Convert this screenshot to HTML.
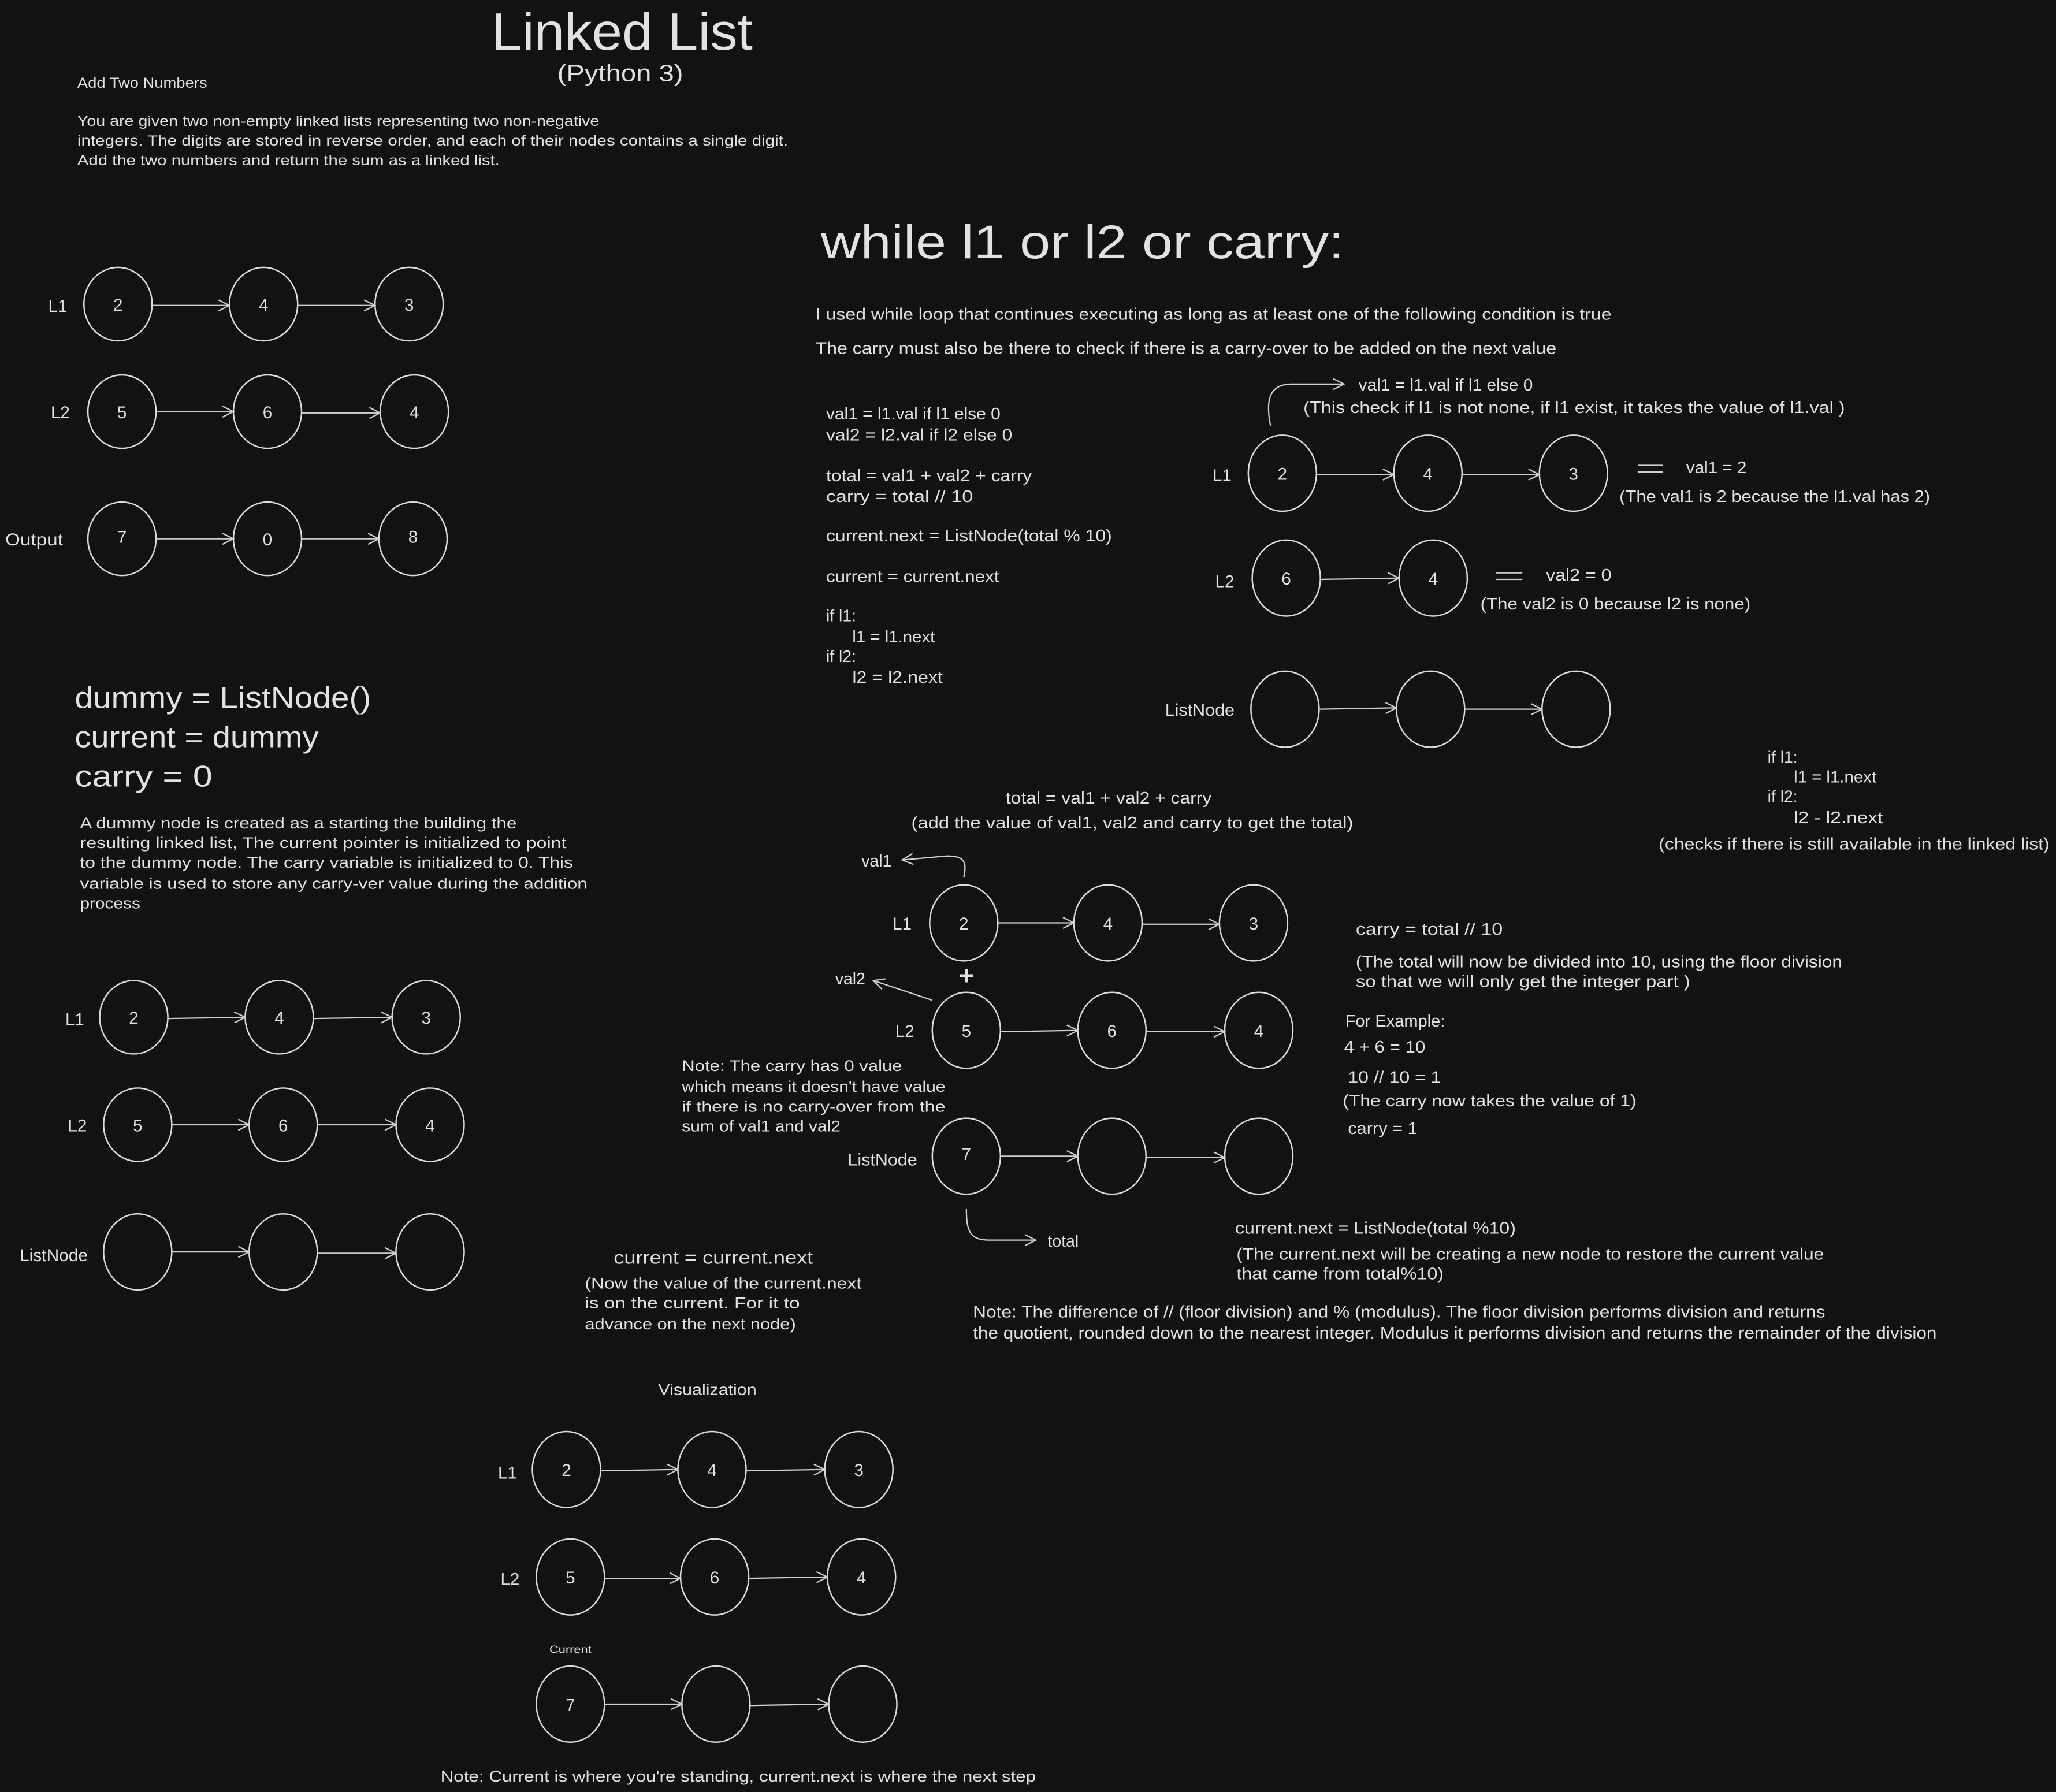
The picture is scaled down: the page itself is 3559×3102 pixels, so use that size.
<!DOCTYPE html>
<html><head><meta charset="utf-8"><style>
html,body{margin:0;padding:0;background:#121212;}
svg{display:block}
text{font-family:"Liberation Sans",sans-serif;fill:#e2e2e2;}
.c{fill:none;stroke:#dcdcdc;stroke-width:1.1}
.a{fill:none;stroke:#cfcfcf;stroke-width:1;marker-end:url(#ah)}
</style></head><body>
<svg width="3559" height="3102" viewBox="0 0 1568 1367" preserveAspectRatio="none" xmlns="http://www.w3.org/2000/svg">
<defs><marker id="ah" viewBox="0 0 12 12" refX="11" refY="6" markerWidth="10" markerHeight="10" markerUnits="userSpaceOnUse" orient="auto"><path d="M1 1 L11 6 L1 11" fill="none" stroke="#cfcfcf" stroke-width="1.2"/></marker></defs>
<rect width="1568" height="1367" fill="#121212"/>

<text x="375" y="38" font-size="40" textLength="199" lengthAdjust="spacingAndGlyphs">Linked List</text>
<text x="425" y="62" font-size="18" textLength="96" lengthAdjust="spacingAndGlyphs">(Python 3)</text>
<text x="59" y="67" font-size="11" textLength="99" lengthAdjust="spacingAndGlyphs">Add Two Numbers</text>
<text x="59" y="96" font-size="11" textLength="398" lengthAdjust="spacingAndGlyphs">You are given two non-empty linked lists representing two non-negative</text>
<text x="59" y="111" font-size="11" textLength="542" lengthAdjust="spacingAndGlyphs">integers. The digits are stored in reverse order, and each of their nodes contains a single digit.</text>
<text x="59" y="126" font-size="11" textLength="322" lengthAdjust="spacingAndGlyphs">Add the two numbers and return the sum as a linked list.</text>

<!-- Group A -->
<g font-size="13" text-anchor="middle">
<text x="44" y="238">L1</text>
<ellipse class="c" cx="90" cy="232" rx="26" ry="28"/><text x="90" y="237">2</text>
<ellipse class="c" cx="201" cy="232" rx="26" ry="28"/><text x="201" y="237">4</text>
<ellipse class="c" cx="312" cy="232" rx="26" ry="28"/><text x="312" y="237">3</text>
<path class="a" d="M116 233 L175 233"/><path class="a" d="M227 233 L286 233"/>
<text x="46" y="319">L2</text>
<ellipse class="c" cx="93" cy="314" rx="26" ry="28"/><text x="93" y="319">5</text>
<ellipse class="c" cx="204" cy="314" rx="26" ry="28"/><text x="204" y="319">6</text>
<ellipse class="c" cx="316" cy="314" rx="26" ry="28"/><text x="316" y="319">4</text>
<path class="a" d="M119 314 L178 314"/><path class="a" d="M230 315 L290 315"/>
<text x="26" y="416" textLength="44" lengthAdjust="spacingAndGlyphs">Output</text>
<ellipse class="c" cx="93" cy="411" rx="26" ry="28"/><text x="93" y="414">7</text>
<ellipse class="c" cx="204" cy="411" rx="26" ry="28"/><text x="204" y="416">0</text>
<ellipse class="c" cx="315" cy="411" rx="26" ry="28"/><text x="315" y="414">8</text>
<path class="a" d="M119 411 L178 411"/><path class="a" d="M230 411 L289 411"/>
</g>

<text x="626" y="197" font-size="36" textLength="399" lengthAdjust="spacingAndGlyphs">while l1 or l2 or carry:</text>
<text x="622" y="244" font-size="12.5" textLength="607" lengthAdjust="spacingAndGlyphs">I used while loop that continues executing as long as at least one of the following condition is true</text>
<text x="622" y="270" font-size="12.5" textLength="565" lengthAdjust="spacingAndGlyphs">The carry must also be there to check if there is a carry-over to be added on the next value</text>

<g font-size="12.5">
<text x="630" y="320" textLength="133" lengthAdjust="spacingAndGlyphs">val1 = l1.val if l1 else 0</text>
<text x="630" y="336" textLength="142" lengthAdjust="spacingAndGlyphs">val2 = l2.val if l2 else 0</text>
<text x="630" y="367" textLength="157" lengthAdjust="spacingAndGlyphs">total = val1 + val2 + carry</text>
<text x="630" y="383" textLength="112" lengthAdjust="spacingAndGlyphs">carry = total // 10</text>
<text x="630" y="413" textLength="218" lengthAdjust="spacingAndGlyphs">current.next = ListNode(total % 10)</text>
<text x="630" y="444" textLength="132" lengthAdjust="spacingAndGlyphs">current = current.next</text>
<text x="630" y="474">if l1:</text>
<text x="650" y="490" textLength="63" lengthAdjust="spacingAndGlyphs">l1 = l1.next</text>
<text x="630" y="505">if l2:</text>
<text x="650" y="521" textLength="69" lengthAdjust="spacingAndGlyphs">l2 = l2.next</text>
</g>

<!-- right group -->
<path class="a" d="M969 325 C965 305 968 293 985 293 L1025 293"/>
<g font-size="12.5">
<text x="1036" y="298" textLength="133" lengthAdjust="spacingAndGlyphs">val1 = l1.val if l1 else 0</text>
<text x="994" y="315" textLength="413" lengthAdjust="spacingAndGlyphs">(This check if l1 is not none, if l1 exist, it takes the value of l1.val )</text>
<text x="1286" y="361" textLength="46" lengthAdjust="spacingAndGlyphs">val1 = 2</text>
<text x="1235" y="383" textLength="237" lengthAdjust="spacingAndGlyphs">(The val1 is 2 because the l1.val has 2)</text>
<text x="1179" y="443" textLength="50" lengthAdjust="spacingAndGlyphs">val2 = 0</text>
<text x="1129" y="465" textLength="206" lengthAdjust="spacingAndGlyphs">(The val2 is 0 because l2 is none)</text>
</g>
<path d="M1249 355 H1268 M1249 360 H1268 M1141 437 H1161 M1141 442 H1161" stroke="#cfcfcf" stroke-width="1"/>
<g font-size="13" text-anchor="middle">
<text x="932" y="367">L1</text>
<ellipse class="c" cx="978" cy="361" rx="26" ry="29"/><text x="978" y="366">2</text>
<ellipse class="c" cx="1089" cy="361" rx="26" ry="29"/><text x="1089" y="366">4</text>
<ellipse class="c" cx="1200" cy="361" rx="26" ry="29"/><text x="1200" y="366">3</text>
<path class="a" d="M1004 362 L1063 362"/><path class="a" d="M1115 362 L1174 362"/>
<text x="934" y="448">L2</text>
<ellipse class="c" cx="981" cy="441" rx="26" ry="29"/><text x="981" y="446">6</text>
<ellipse class="c" cx="1093" cy="441" rx="26" ry="29"/><text x="1093" y="446">4</text>
<path class="a" d="M1007 442 L1067 441"/>
<text x="915" y="546" textLength="53" lengthAdjust="spacingAndGlyphs">ListNode</text>
<ellipse class="c" cx="980" cy="541" rx="26" ry="29"/>
<ellipse class="c" cx="1091" cy="541" rx="26" ry="29"/>
<ellipse class="c" cx="1202" cy="541" rx="26" ry="29"/>
<path class="a" d="M1006 541 L1065 540"/><path class="a" d="M1117 541 L1176 541"/>
</g>

<g font-size="12.5">
<text x="1348" y="582">if l1:</text>
<text x="1368" y="597" textLength="63" lengthAdjust="spacingAndGlyphs">l1 = l1.next</text>
<text x="1348" y="612">if l2:</text>
<text x="1368" y="628" textLength="68" lengthAdjust="spacingAndGlyphs">l2 - l2.next</text>
<text x="1265" y="648" textLength="298" lengthAdjust="spacingAndGlyphs">(checks if there is still available in the linked list)</text>
</g>

<!-- left dummy -->
<g font-size="23">
<text x="57" y="540" textLength="226" lengthAdjust="spacingAndGlyphs">dummy = ListNode()</text>
<text x="57" y="570" textLength="186" lengthAdjust="spacingAndGlyphs">current = dummy</text>
<text x="57" y="600" textLength="105" lengthAdjust="spacingAndGlyphs">carry = 0</text>
</g>
<g font-size="12">
<text x="61" y="632" textLength="333" lengthAdjust="spacingAndGlyphs">A dummy node is created as a starting the building the</text>
<text x="61" y="647" textLength="371" lengthAdjust="spacingAndGlyphs">resulting linked list, The current pointer is initialized to point</text>
<text x="61" y="662" textLength="376" lengthAdjust="spacingAndGlyphs">to the dummy node. The carry variable is initialized to 0. This</text>
<text x="61" y="678" textLength="387" lengthAdjust="spacingAndGlyphs">variable is used to store any carry-ver value during the addition</text>
<text x="61" y="693" textLength="46" lengthAdjust="spacingAndGlyphs">process</text>
</g>

<!-- Group B -->
<g font-size="13" text-anchor="middle">
<text x="57" y="782">L1</text>
<ellipse class="c" cx="102" cy="776" rx="26" ry="28"/><text x="102" y="781">2</text>
<ellipse class="c" cx="213" cy="776" rx="26" ry="28"/><text x="213" y="781">4</text>
<ellipse class="c" cx="325" cy="776" rx="26" ry="28"/><text x="325" y="781">3</text>
<path class="a" d="M128 777 L187 776"/><path class="a" d="M239 777 L299 776"/>
<text x="59" y="863">L2</text>
<ellipse class="c" cx="105" cy="858" rx="26" ry="28"/><text x="105" y="863">5</text>
<ellipse class="c" cx="216" cy="858" rx="26" ry="28"/><text x="216" y="863">6</text>
<ellipse class="c" cx="328" cy="858" rx="26" ry="28"/><text x="328" y="863">4</text>
<path class="a" d="M131 858 L190 858"/><path class="a" d="M242 858 L302 858"/>
<text x="41" y="962" textLength="52" lengthAdjust="spacingAndGlyphs">ListNode</text>
<ellipse class="c" cx="105" cy="955" rx="26" ry="29"/>
<ellipse class="c" cx="216" cy="955" rx="26" ry="29"/>
<ellipse class="c" cx="328" cy="955" rx="26" ry="29"/>
<path class="a" d="M131 955 L190 955"/><path class="a" d="M242 956 L302 956"/>
</g>

<!-- middle -->
<text x="767" y="613" font-size="12.5" textLength="157" lengthAdjust="spacingAndGlyphs">total = val1 + val2 + carry</text>
<text x="695" y="632" font-size="12.5" textLength="337" lengthAdjust="spacingAndGlyphs">(add the value of val1, val2 and carry to get the total)</text>
<text x="657" y="661" font-size="12.5">val1</text>
<path class="a" d="M735 669 C738 656 734 653 722 653 L688 656"/>
<text x="637" y="751" font-size="12.5">val2</text>
<path class="a" d="M711 763 L666 748"/>
<text x="737" y="751" font-size="20" font-weight="bold" text-anchor="middle">+</text>
<g font-size="13" text-anchor="middle">
<text x="688" y="709">L1</text>
<ellipse class="c" cx="735" cy="704" rx="26" ry="29"/><text x="735" y="709">2</text>
<ellipse class="c" cx="845" cy="704" rx="26" ry="29"/><text x="845" y="709">4</text>
<ellipse class="c" cx="956" cy="704" rx="26" ry="29"/><text x="956" y="709">3</text>
<path class="a" d="M761 704 L819 704"/><path class="a" d="M871 705 L930 705"/>
<text x="690" y="791">L2</text>
<ellipse class="c" cx="737" cy="786" rx="26" ry="29"/><text x="737" y="791">5</text>
<ellipse class="c" cx="848" cy="786" rx="26" ry="29"/><text x="848" y="791">6</text>
<ellipse class="c" cx="960" cy="786" rx="26" ry="29"/><text x="960" y="791">4</text>
<path class="a" d="M763 787 L822 786"/><path class="a" d="M874 787 L934 787"/>
<text x="673" y="889" textLength="53" lengthAdjust="spacingAndGlyphs">ListNode</text>
<ellipse class="c" cx="737" cy="882" rx="26" ry="29"/><text x="737" y="885">7</text>
<ellipse class="c" cx="848" cy="882" rx="26" ry="29"/>
<ellipse class="c" cx="960" cy="882" rx="26" ry="29"/>
<path class="a" d="M763 882 L822 882"/><path class="a" d="M874 883 L934 883"/>
</g>
<path class="a" d="M737 922 C737 940 740 946 755 946 L790 946"/>
<text x="799" y="951" font-size="12.5">total</text>
<g font-size="12">
<text x="520" y="817" textLength="168" lengthAdjust="spacingAndGlyphs">Note: The carry has 0 value</text>
<text x="520" y="833" textLength="201" lengthAdjust="spacingAndGlyphs">which means it doesn't have value</text>
<text x="520" y="848" textLength="201" lengthAdjust="spacingAndGlyphs">if there is no carry-over from the</text>
<text x="520" y="863" textLength="121" lengthAdjust="spacingAndGlyphs">sum of val1 and val2</text>
</g>

<g font-size="12.5">
<text x="1034" y="713" textLength="112" lengthAdjust="spacingAndGlyphs">carry = total // 10</text>
<text x="1034" y="738" textLength="371" lengthAdjust="spacingAndGlyphs">(The total will now be divided into 10, using the floor division</text>
<text x="1034" y="753" textLength="255" lengthAdjust="spacingAndGlyphs">so that we will only get the integer part )</text>
<text x="1026" y="783" textLength="76" lengthAdjust="spacingAndGlyphs">For Example:</text>
<text x="1025" y="803" textLength="62" lengthAdjust="spacingAndGlyphs">4 + 6 = 10</text>
<text x="1028" y="826" textLength="71" lengthAdjust="spacingAndGlyphs">10 // 10 = 1</text>
<text x="1024" y="844" textLength="224" lengthAdjust="spacingAndGlyphs">(The carry now takes the value of 1)</text>
<text x="1028" y="865" textLength="53" lengthAdjust="spacingAndGlyphs">carry = 1</text>
<text x="942" y="941" textLength="214" lengthAdjust="spacingAndGlyphs">current.next = ListNode(total %10)</text>
<text x="943" y="961" textLength="448" lengthAdjust="spacingAndGlyphs">(The current.next will be creating a new node to restore the current value</text>
<text x="943" y="976" textLength="158" lengthAdjust="spacingAndGlyphs">that came from total%10)</text>
<text x="742" y="1005" textLength="650" lengthAdjust="spacingAndGlyphs">Note: The difference of // (floor division) and % (modulus). The floor division performs division and returns</text>
<text x="742" y="1021" textLength="735" lengthAdjust="spacingAndGlyphs">the quotient, rounded down to the nearest integer. Modulus it performs division and returns the remainder of the division</text>
</g>

<text x="468" y="964" font-size="14" textLength="152" lengthAdjust="spacingAndGlyphs">current = current.next</text>
<g font-size="12">
<text x="446" y="983" textLength="211" lengthAdjust="spacingAndGlyphs">(Now the value of the current.next</text>
<text x="446" y="998" textLength="164" lengthAdjust="spacingAndGlyphs">is on the current. For it to</text>
<text x="446" y="1014" textLength="161" lengthAdjust="spacingAndGlyphs">advance on the next node)</text>
</g>

<!-- Visualization -->
<text x="502" y="1064" font-size="12" textLength="75" lengthAdjust="spacingAndGlyphs">Visualization</text>
<g font-size="13" text-anchor="middle">
<text x="387" y="1128">L1</text>
<ellipse class="c" cx="432" cy="1121" rx="26" ry="29"/><text x="432" y="1126">2</text>
<ellipse class="c" cx="543" cy="1121" rx="26" ry="29"/><text x="543" y="1126">4</text>
<ellipse class="c" cx="655" cy="1121" rx="26" ry="29"/><text x="655" y="1126">3</text>
<path class="a" d="M458 1122 L517 1121"/><path class="a" d="M569 1122 L629 1121"/>
<text x="389" y="1209">L2</text>
<ellipse class="c" cx="435" cy="1203" rx="26" ry="29"/><text x="435" y="1208">5</text>
<ellipse class="c" cx="545" cy="1203" rx="26" ry="29"/><text x="545" y="1208">6</text>
<ellipse class="c" cx="657" cy="1203" rx="26" ry="29"/><text x="657" y="1208">4</text>
<path class="a" d="M461 1204 L519 1204"/><path class="a" d="M571 1204 L631 1203"/>
<ellipse class="c" cx="435" cy="1300" rx="26" ry="29"/><text x="435" y="1305">7</text>
<ellipse class="c" cx="546" cy="1300" rx="26" ry="29"/>
<ellipse class="c" cx="658" cy="1300" rx="26" ry="29"/>
<path class="a" d="M461 1300 L520 1300"/><path class="a" d="M572 1301 L632 1300"/>
</g>
<text x="419" y="1261" font-size="8" textLength="32" lengthAdjust="spacingAndGlyphs">Current</text>
<text x="336" y="1359" font-size="12" textLength="454" lengthAdjust="spacingAndGlyphs">Note: Current is where you're standing, current.next is where the next step</text>
</svg>
</body></html>
